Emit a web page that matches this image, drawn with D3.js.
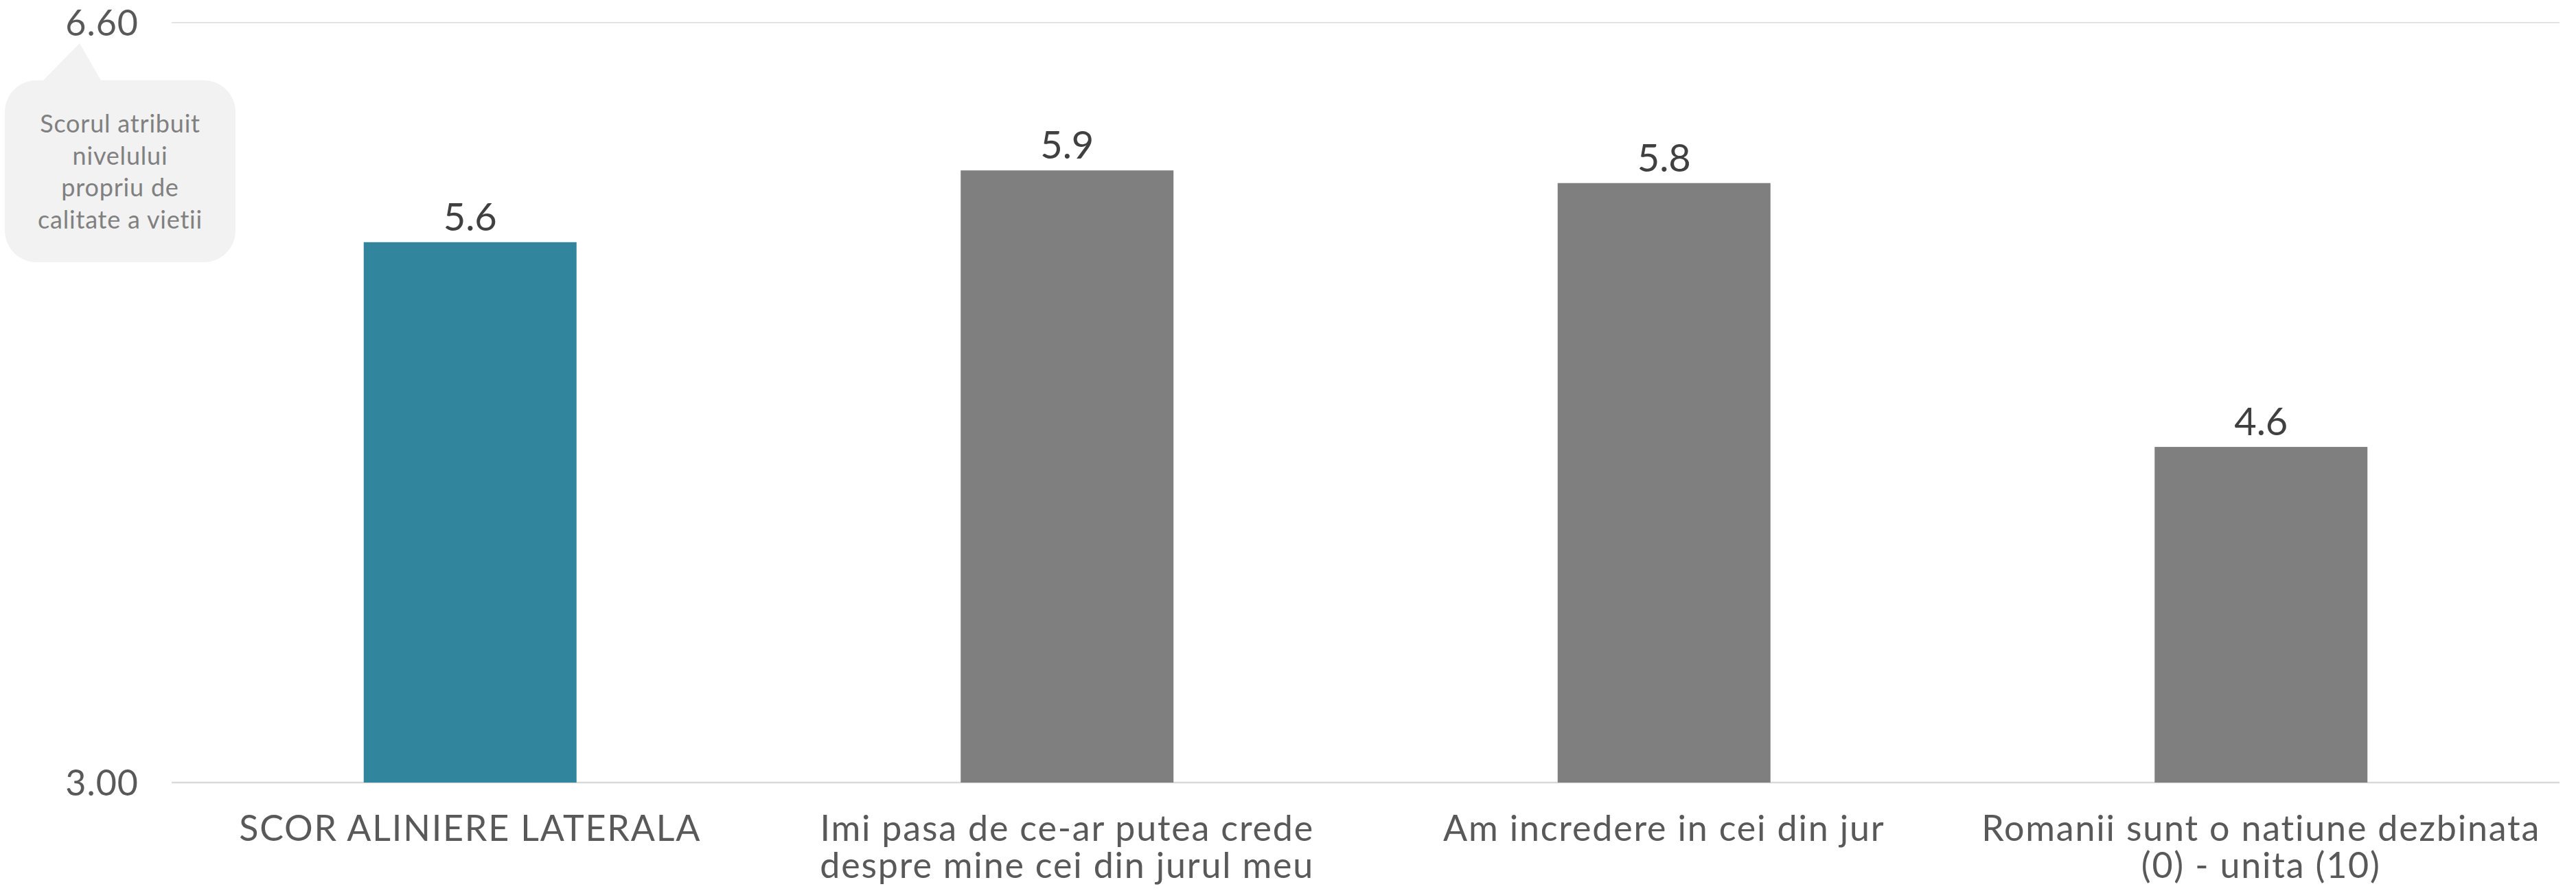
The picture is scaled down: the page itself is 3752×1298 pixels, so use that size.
<!DOCTYPE html>
<html>
<head>
<meta charset="utf-8">
<script src="https://cdn.jsdelivr.net/npm/d3@7"></script>
<style>
  html, body { margin: 0; padding: 0; background: #ffffff; }
  svg { display: block; }
  text { font-family: "Lato", "Open Sans", sans-serif; }
</style>
</head>
<body>
<svg id="chart" width="3752" height="1298"></svg>
<script>
// ---- data ----
const categories = [
  "SCOR ALINIERE LATERALA",
  "Imi pasa de ce-ar putea crede despre mine cei din jurul meu",
  "Am incredere in cei din jur",
  "Romanii sunt o natiune dezbinata (0) - unita (10)"
];
const categoryLines = [
  ["SCOR ALINIERE LATERALA"],
  ["Imi pasa de ce-ar putea crede", "despre mine cei din jurul meu"],
  ["Am incredere in cei din jur"],
  ["Romanii sunt o natiune dezbinata", "(0) - unita (10)"]
];
const values = [5.56, 5.90, 5.84, 4.59];
const valueLabels = ["5.6", "5.9", "5.8", "4.6"];
const yTicks = [3.00, 6.60];
const yDomain = [3.00, 6.60];
const calloutLines = ["Scorul atribuit", "nivelului", "propriu de", "calitate a vietii"];
const highlightIndex = 0;

// ---- layout ----
const svg = d3.select("#chart");
const plotLeft = 250, plotRight = 3728, plotTop = 33, plotBottom = 1140;

const x = d3.scaleBand()
  .domain(categories)
  .range([plotLeft, plotRight])
  .paddingInner(0.6435)
  .paddingOuter(0.6435 / 2);

const y = d3.scaleLinear()
  .domain(yDomain)
  .range([plotBottom, plotTop]);

// gridlines
svg.append("g").selectAll("line")
  .data(yTicks)
  .join("line")
  .attr("x1", plotLeft)
  .attr("x2", plotRight)
  .attr("y1", d => y(d))
  .attr("y2", d => y(d))
  .attr("stroke", (d, i) => i === 0 ? "#d9d9d9" : "#e3e3e3")
  .attr("stroke-width", (d, i) => i === 0 ? 2.5 : 2);

// y axis tick labels
const yAxis = d3.axisLeft(y).tickValues(yTicks).tickFormat(d3.format(".2f")).tickSize(0).tickPadding(0);
const yg = svg.append("g")
  .attr("transform", `translate(202,0)`)
  .call(yAxis);
yg.select(".domain").remove();
yg.selectAll("text")
  .attr("font-size", 52)
  .attr("fill", "#595959")
  .attr("font-family", "Lato, sans-serif")
  .attr("letter-spacing", "1px")
  .attr("dy", "0.35em");

// bars
svg.append("g").selectAll("rect")
  .data(values)
  .join("rect")
  .attr("x", (d, i) => x(categories[i]))
  .attr("width", x.bandwidth())
  .attr("y", d => y(d))
  .attr("height", d => y(yDomain[0]) - y(d))
  .attr("fill", (d, i) => i === highlightIndex ? "#31859c" : "#7f7f7f");

// value labels
svg.append("g").selectAll("text")
  .data(values)
  .join("text")
  .attr("x", (d, i) => x(categories[i]) + x.bandwidth() / 2)
  .attr("y", d => y(d) - 17)
  .attr("text-anchor", "middle")
  .attr("font-size", 56)
  .attr("fill", "#404040")
  .text((d, i) => valueLabels[i]);

// x axis labels
const xg = svg.append("g");
categoryLines.forEach((lines, i) => {
  const cx = x(categories[i]) + x.bandwidth() / 2;
  lines.forEach((ln, k) => {
    xg.append("text")
      .attr("x", cx)
      .attr("y", 1225 + k * 54)
      .attr("text-anchor", "middle")
      .attr("font-size", 52)
      .attr("letter-spacing", "1.8px")
      .attr("fill", "#595959")
      .text(ln);
  });
});

// callout
const cg = svg.append("g");
const bx0 = 7, by0 = 117, bx1 = 343, by1 = 382, r = 46;
const tipX = 116, tipY = 63, baseL = 63, baseR = 147;
const p = d3.path();
p.moveTo(bx0 + r, by0);
p.lineTo(baseL, by0);
p.lineTo(tipX, tipY);
p.lineTo(baseR, by0);
p.lineTo(bx1 - r, by0);
p.arcTo(bx1, by0, bx1, by0 + r, r);
p.lineTo(bx1, by1 - r);
p.arcTo(bx1, by1, bx1 - r, by1, r);
p.lineTo(bx0 + r, by1);
p.arcTo(bx0, by1, bx0, by1 - r, r);
p.lineTo(bx0, by0 + r);
p.arcTo(bx0, by0, bx0 + r, by0, r);
p.closePath();
cg.append("path").attr("d", p.toString()).attr("fill", "#f2f2f2");
calloutLines.forEach((ln, k) => {
  cg.append("text")
    .attr("x", 175)
    .attr("y", 193 + k * 46.5)
    .attr("text-anchor", "middle")
    .attr("font-size", 36)
    .attr("letter-spacing", "0.8px")
    .attr("fill", "#808080")
    .text(ln);
});
</script>
</body>
</html>
